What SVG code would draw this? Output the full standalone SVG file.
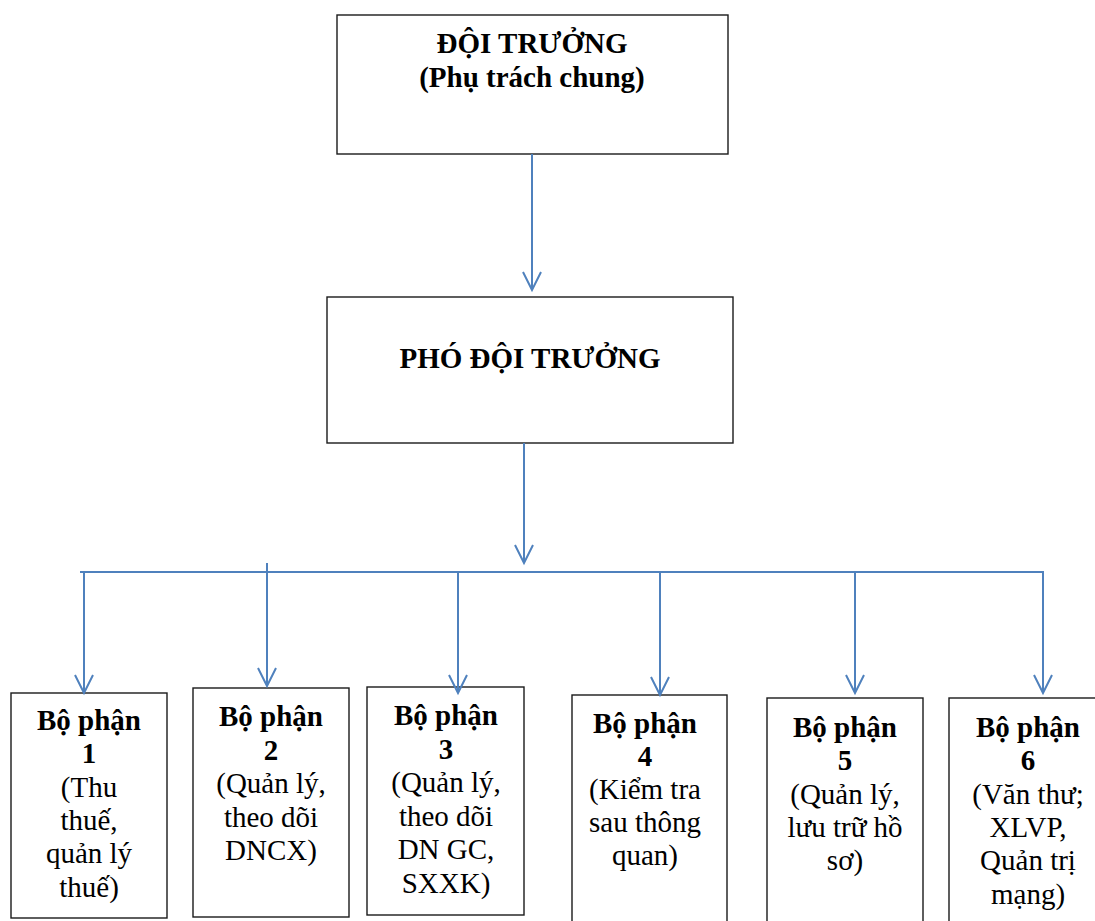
<svg xmlns="http://www.w3.org/2000/svg" width="1095" height="921" viewBox="0 0 1095 921">
<style>
.box{fill:#fff;stroke:#1a1a1a;stroke-width:1.4}
.t{font-family:"Liberation Serif","Times New Roman",serif;font-size:29px;text-anchor:middle;fill:#000}
.b{font-weight:bold}
.c{fill:none;stroke:#4F81BD;stroke-width:2}
</style>
<defs>
<marker id="ah" markerUnits="userSpaceOnUse" markerWidth="40" markerHeight="40" refX="0" refY="0" orient="auto" overflow="visible">
<path d="M-18,-9 L0,0 L-18,9" fill="none" stroke="#4F81BD" stroke-width="2"/>
</marker>
</defs>
<rect width="1095" height="921" fill="#fff"/>
<g id="n-doi-truong">
<rect class="box" x="337" y="15" width="391" height="139"/>
<text class="t b" x="532" y="53">ĐỘI TRƯỞNG</text>
<text class="t b" x="532" y="87">(Phụ trách chung)</text>
</g>
<g id="n-pho-doi-truong">
<rect class="box" x="327" y="297" width="406" height="146"/>
<text class="t b" x="530" y="368">PHÓ ĐỘI TRƯỞNG</text>
</g>
<g id="n-bp1">
<rect class="box" x="11" y="693" width="156" height="225"/>
<text class="t" x="89" y="730"><tspan class="b">Bộ phận</tspan><tspan class="b" x="89" dy="33.3">1</tspan><tspan x="89" dy="33.3">(Thu</tspan><tspan x="89" dy="33.3">thuế,</tspan><tspan x="89" dy="33.3">quản lý</tspan><tspan x="89" dy="33.3">thuế)</tspan></text>
</g>
<g id="n-bp2">
<rect class="box" x="193" y="688" width="156" height="229"/>
<text class="t" x="271" y="726"><tspan class="b">Bộ phận</tspan><tspan class="b" x="271" dy="33.5">2</tspan><tspan x="271" dy="33.5">(Quản lý,</tspan><tspan x="271" dy="33.5">theo dõi</tspan><tspan x="271" dy="33.5">DNCX)</tspan></text>
</g>
<g id="n-bp3">
<rect class="box" x="367" y="687" width="157" height="228"/>
<text class="t" x="446" y="725"><tspan class="b">Bộ phận</tspan><tspan class="b" x="446" dy="33.5">3</tspan><tspan x="446" dy="33.5">(Quản lý,</tspan><tspan x="446" dy="33.5">theo dõi</tspan><tspan x="446" dy="33.5">DN GC,</tspan><tspan x="446" dy="33.5">SXXK)</tspan></text>
</g>
<g id="n-bp4">
<rect class="box" x="572" y="695" width="155" height="240"/>
<text class="t" x="645" y="733"><tspan class="b">Bộ phận</tspan><tspan class="b" x="645" dy="33">4</tspan><tspan x="645" dy="33">(Kiểm tra</tspan><tspan x="645" dy="33">sau thông</tspan><tspan x="645" dy="33">quan)</tspan></text>
</g>
<g id="n-bp5">
<rect class="box" x="767" y="698" width="156" height="240"/>
<text class="t" x="845" y="737"><tspan class="b">Bộ phận</tspan><tspan class="b" x="845" dy="33.3">5</tspan><tspan x="845" dy="33.3">(Quản lý,</tspan><tspan x="845" dy="33.3">lưu trữ hồ</tspan><tspan x="845" dy="33.3">sơ)</tspan></text>
</g>
<g id="n-bp6">
<rect class="box" x="949" y="698" width="160" height="240"/>
<text class="t" x="1028" y="737"><tspan class="b">Bộ phận</tspan><tspan class="b" x="1028" dy="33.3">6</tspan><tspan x="1028" dy="33.3">(Văn thư;</tspan><tspan x="1028" dy="33.3">XLVP,</tspan><tspan x="1028" dy="33.3">Quản trị</tspan><tspan x="1028" dy="33.3">mạng)</tspan></text>
</g>
<g id="connectors">
<line class="c" x1="532" y1="154" x2="532" y2="290" marker-end="url(#ah)"/>
<line class="c" x1="524" y1="443" x2="524" y2="563" marker-end="url(#ah)"/>
<line class="c" x1="80" y1="572" x2="1044" y2="572"/>
<line class="c" x1="84" y1="571" x2="84" y2="693" marker-end="url(#ah)"/>
<line class="c" x1="267" y1="563" x2="267" y2="686" marker-end="url(#ah)"/>
<line class="c" x1="458" y1="572" x2="458" y2="693" marker-end="url(#ah)"/>
<line class="c" x1="660" y1="572" x2="660" y2="695" marker-end="url(#ah)"/>
<line class="c" x1="855" y1="572" x2="855" y2="693" marker-end="url(#ah)"/>
<line class="c" x1="1043" y1="571" x2="1043" y2="693" marker-end="url(#ah)"/>
</g>
</svg>
